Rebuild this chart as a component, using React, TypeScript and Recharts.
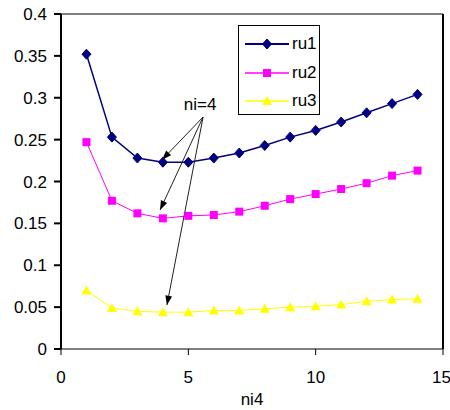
import React from "react";
import {
  LineChart,
  Line,
  XAxis,
  YAxis,
  ReferenceLine,
  ReferenceDot,
} from "recharts";

const niValues = [1, 2, 3, 4, 5, 6, 7, 8, 9, 10, 11, 12, 13, 14];
const ru1 = [0.352, 0.253, 0.228, 0.223, 0.223, 0.228, 0.234, 0.243, 0.253, 0.261, 0.271, 0.282, 0.293, 0.304];
const ru2 = [0.247, 0.177, 0.162, 0.156, 0.159, 0.16, 0.164, 0.171, 0.179, 0.185, 0.191, 0.198, 0.207, 0.213];
const ru3 = [0.07, 0.049, 0.045, 0.044, 0.044, 0.046, 0.046, 0.048, 0.05, 0.051, 0.053, 0.057, 0.059, 0.06];

const xTicks = [0, 5, 10, 15];
const yTicks = [0, 0.05, 0.1, 0.15, 0.2, 0.25, 0.3, 0.35, 0.4];
const yTickLabels = ["0", "0.05", "0.1", "0.15", "0.2", "0.25", "0.3", "0.35", "0.4"];

// annotation arrows: start near the "ni=4" label, end at the ni=4 points
const arrowStart = { x: 5.58, y: 0.277 };
const arrowEnds = [
  { x: 3.97, y: 0.226 },
  { x: 3.89, y: 0.166 },
  { x: 4.16, y: 0.0525 },
];

const series = [
  { key: "ru1", color: "#000080", width: 1.5, marker: "diamond" },
  { key: "ru2", color: "#FF00FF", width: 1, marker: "square" },
  { key: "ru3", color: "#FFFF00", width: 1, marker: "triangle" },
];

const FONT = "'Liberation Sans', Arial, sans-serif";
const FS = 17;

const data = niValues.map((ni, i) => ({ ni, ru1: ru1[i], ru2: ru2[i], ru3: ru3[i] }));

function Marker({ cx, cy, type, color }: any) {
  if (cx == null || cy == null) return null;
  if (type === "diamond") {
    return (
      <polygon
        points={`${cx},${cy - 5} ${cx + 4.5},${cy} ${cx},${cy + 5} ${cx - 4.5},${cy}`}
        fill={color}
        stroke={color}
      />
    );
  }
  if (type === "square") {
    return <rect x={cx - 4} y={cy - 4} width={8} height={8} fill={color} />;
  }
  return (
    <polygon
      points={`${cx},${cy - 5} ${cx + 5},${cy + 4} ${cx - 5},${cy + 4}`}
      fill={color}
    />
  );
}

const Arrow = ({ x1, y1, x2, y2 }: any) => {
  if (x1 == null) return null;
  const ang = Math.atan2(y2 - y1, x2 - x1);
  const len = 10;
  const spread = 0.35;
  const ax = x2 - len * Math.cos(ang - spread);
  const ay = y2 - len * Math.sin(ang - spread);
  const bx = x2 - len * Math.cos(ang + spread);
  const by = y2 - len * Math.sin(ang + spread);
  return (
    <g>
      <line x1={x1} y1={y1} x2={x2} y2={y2} stroke="#222" strokeWidth={1} />
      <polygon points={`${x2},${y2} ${ax},${ay} ${bx},${by}`} fill="#000" />
    </g>
  );
};

const LegendBox = () => (
  <div
    style={{
      position: "absolute",
      left: 238,
      top: 25,
      border: "1px solid #000",
      background: "#fff",
      width: 82,
      height: 90,
      boxSizing: "border-box",
      paddingTop: 4,
      fontFamily: FONT,
      fontSize: FS,
    }}
  >
    {series.map((s) => (
      <div key={s.key} style={{ display: "flex", alignItems: "center", height: 28.5 }}>
        <svg width={46} height={14} style={{ marginLeft: 5 }}>
          <line x1={1} y1={7} x2={45} y2={7} stroke={s.color} strokeWidth={s.width + 0.5} />
          <Marker cx={23} cy={7} type={s.marker} color={s.color} />
        </svg>
        <span style={{ marginLeft: 2 }}>{s.key}</span>
      </div>
    ))}
  </div>
);

export default function App() {
  return (
    <div style={{ position: "absolute", left: 0, top: 0, width: 450, height: 410, background: "#fff", overflow: "hidden" }}>
      <LineChart
        width={450}
        height={410}
        data={data}
        margin={{ top: 14, right: 7, left: 0, bottom: 0 }}
      >
        <XAxis
          dataKey="ni"
          type="number"
          domain={[0, 15]}
          ticks={xTicks}
          height={61}
          stroke="#000"
          tickSize={6}
          tickMargin={16}
          tick={{ fill: "#000", fontSize: FS, fontFamily: FONT }}
          label={{ value: "ni4", position: "insideBottom", offset: 5, fill: "#000", fontSize: FS, fontFamily: FONT }}
        />
        <YAxis
          type="number"
          domain={[0, 0.4]}
          ticks={yTicks}
          width={61}
          stroke="#000"
          strokeWidth={2}
          tickSize={7}
          tickMargin={7}
          tickFormatter={(v: number) => yTickLabels[yTicks.indexOf(v)] ?? String(v)}
          tick={{ fill: "#000", fontSize: FS, fontFamily: FONT }}
          interval={0}
        />
        <ReferenceLine y={0.4} stroke="#000" strokeWidth={1} />
        <ReferenceLine x={15} stroke="#000" strokeWidth={2} />
        {series.map((s) => (
          <Line
            key={s.key}
            dataKey={s.key}
            stroke={s.color}
            strokeWidth={s.width}
            isAnimationActive={false}
            dot={(p: any) => <Marker key={`${s.key}-${p.index}`} cx={p.cx} cy={p.cy} type={s.marker} color={s.color} />}
            activeDot={false}
          />
        ))}
        {arrowEnds.map((e, i) => (
          <ReferenceLine
            key={`arrow-${i}`}
            segment={[arrowStart, e]}
            shape={(p: any) => <Arrow {...p} />}
          />
        ))}
        <ReferenceDot
          x={5.46}
          y={0.2925}
          r={0}
          fill="none"
          stroke="none"
          label={{ value: "ni=4", position: "center", fill: "#000", fontSize: FS, fontFamily: FONT }}
        />
      </LineChart>
      <LegendBox />
    </div>
  );
}
